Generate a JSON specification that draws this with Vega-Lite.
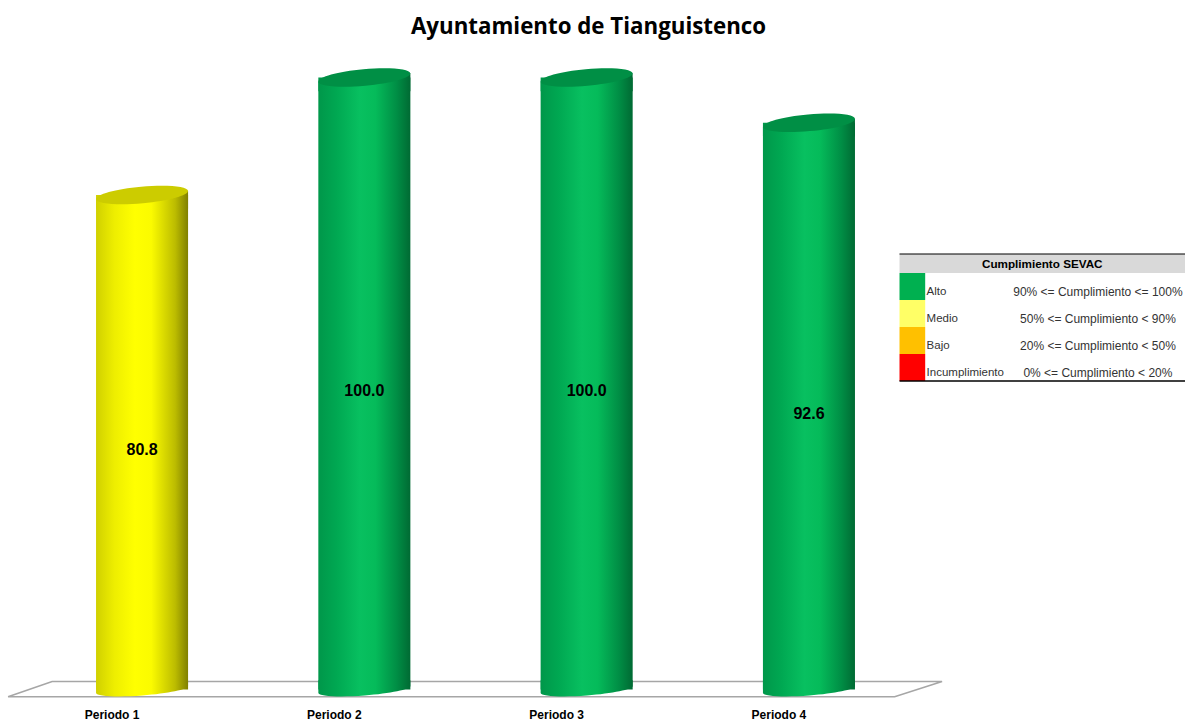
{
"$schema":"https://vega.github.io/schema/vega-lite/v6.json",
"width":1185,"height":640,
"autosize":{"type":"none"},
"padding":{"top":60,"bottom":21,"left":0,"right":0},
"background":"white",
"view":{"stroke":null},
"title":{"text":"Ayuntamiento de Tianguistenco","font":"Open Sans","fontSize":22.3,"fontWeight":700,"color":"#000000","anchor":"middle","dx":-4,"offset":22},
"datasets":{
"periodos":[
{"periodo":"Periodo 1","cumplimiento":80.8,"nivel":"Medio"},
{"periodo":"Periodo 2","cumplimiento":100.0,"nivel":"Alto"},
{"periodo":"Periodo 3","cumplimiento":100.0,"nivel":"Alto"},
{"periodo":"Periodo 4","cumplimiento":92.6,"nivel":"Alto"}],
"piso":[
{"orden":1,"px":0.68,"py":-1.18},
{"orden":2,"px":75.5,"py":-1.18},
{"orden":3,"px":79.5,"py":1.3},
{"orden":4,"px":4.4,"py":1.3},
{"orden":5,"px":0.68,"py":-1.18}],
"niveles":[
{"nivel":"Alto","rango":"90% <= Cumplimiento <= 100%"},
{"nivel":"Medio","rango":"50% <= Cumplimiento < 90%"},
{"nivel":"Bajo","rango":"20% <= Cumplimiento < 50%"},
{"nivel":"Incumplimiento","rango":"0% <= Cumplimiento < 20%"}],
"encabezado":[{"titulo":"Cumplimiento SEVAC"}]
},
"layer":[
{"data":{"name":"piso"},
 "mark":{"type":"line","color":"#a6a6a6","strokeWidth":1.6,"clip":false},
 "encoding":{
  "x":{"field":"px","type":"quantitative","scale":{"domain":[0,100],"range":[0,1185]},"axis":null},
  "y":{"field":"py","type":"quantitative","scale":{"domain":[-1.72,102.86],"range":[640,0]},"axis":null},
  "order":{"field":"orden","type":"ordinal"}}},
{"data":{"name":"periodos"},
 "encoding":{
  "x":{"field":"periodo","type":"nominal","sort":null,
   "scale":{"domain":["Periodo 1","Periodo 2","Periodo 3","Periodo 4"],"range":[0,951],"paddingInner":0.586,"paddingOuter":0.432},
   "axis":{"title":null,"domain":false,"ticks":false,"grid":false,"labelAngle":0,"labelFont":"Liberation Sans","labelFontSize":12,"labelFontWeight":"bold","labelColor":"#000000","labelPadding":9,"labelOffset":-30}},
  "y":{"field":"cumplimiento","type":"quantitative","scale":{"domain":[-1.72,102.86],"range":[640,0]},"axis":null}
 },
 "layer":[
  {"transform":[{"filter":"datum.nivel === 'Alto'"}],"mark":{"type":"bar","color":{"gradient":"linear","x1":0,"y1":0,"x2":1,"y2":0,"stops":[{"offset":0,"color":"#00974a"},{"offset":0.2,"color":"#00a852"},{"offset":0.45,"color":"#08c060"},{"offset":0.62,"color":"#05bb5a"},{"offset":0.85,"color":"#008e45"},{"offset":1,"color":"#006a33"}]}}},
  {"transform":[{"filter":"datum.nivel === 'Medio'"}],"mark":{"type":"bar","color":{"gradient":"linear","x1":0,"y1":0,"x2":1,"y2":0,"stops":[{"offset":0,"color":"#d0d000"},{"offset":0.2,"color":"#eeee00"},{"offset":0.42,"color":"#ffff00"},{"offset":0.6,"color":"#fbfb00"},{"offset":0.86,"color":"#bcbc00"},{"offset":1,"color":"#808000"}]}}},
  {"transform":[{"filter":"datum.nivel === 'Alto'"}],"mark":{"type":"point","filled":true,"opacity":1,"size":8464,"shape":"M-1,0.09 L1,-0.09 L1,0.3 L-1,0.3 Z","color":{"gradient":"linear","x1":0,"y1":0,"x2":1,"y2":0,"stops":[{"offset":0,"color":"#00974a"},{"offset":0.2,"color":"#00a852"},{"offset":0.45,"color":"#08c060"},{"offset":0.62,"color":"#05bb5a"},{"offset":0.85,"color":"#008e45"},{"offset":1,"color":"#006a33"}]}}},
  {"transform":[{"filter":"datum.nivel === 'Medio'"}],"mark":{"type":"point","filled":true,"opacity":1,"size":8464,"shape":"M-1,0.09 L1,-0.09 L1,0.3 L-1,0.3 Z","color":{"gradient":"linear","x1":0,"y1":0,"x2":1,"y2":0,"stops":[{"offset":0,"color":"#d0d000"},{"offset":0.2,"color":"#eeee00"},{"offset":0.42,"color":"#ffff00"},{"offset":0.6,"color":"#fbfb00"},{"offset":0.86,"color":"#bcbc00"},{"offset":1,"color":"#808000"}]}}},
  {"transform":[{"filter":"datum.nivel === 'Alto'"}],"mark":{"type":"point","filled":true,"opacity":1,"size":8464,"shape":"M-1,0.075 A1,0.13 -4.3 0 0 1,-0.075 L1,-0.2 L-1,-0.2 Z","color":{"gradient":"linear","x1":0,"y1":0,"x2":1,"y2":0,"stops":[{"offset":0,"color":"#00974a"},{"offset":0.2,"color":"#00a852"},{"offset":0.45,"color":"#08c060"},{"offset":0.62,"color":"#05bb5a"},{"offset":0.85,"color":"#008e45"},{"offset":1,"color":"#006a33"}]}},
   "encoding":{"y":{"datum":0}}},
  {"transform":[{"filter":"datum.nivel === 'Medio'"}],"mark":{"type":"point","filled":true,"opacity":1,"size":8464,"shape":"M-1,0.075 A1,0.13 -4.3 0 0 1,-0.075 L1,-0.2 L-1,-0.2 Z","color":{"gradient":"linear","x1":0,"y1":0,"x2":1,"y2":0,"stops":[{"offset":0,"color":"#d0d000"},{"offset":0.2,"color":"#eeee00"},{"offset":0.42,"color":"#ffff00"},{"offset":0.6,"color":"#fbfb00"},{"offset":0.86,"color":"#bcbc00"},{"offset":1,"color":"#808000"}]}},
   "encoding":{"y":{"datum":0}}},
  {"mark":{"type":"point","filled":true,"opacity":1,"size":8464,"shape":"M-1,0.09 A1,0.18 -5.1 0 1 1,-0.09 A1,0.18 -5.1 0 1 -1,0.09 Z"},
   "encoding":{"color":{"field":"nivel","type":"nominal","legend":null,"scale":{"domain":["Alto","Medio"],"range":["#008f45","#cccc00"]}}}},
  {"mark":{"type":"text","font":"Liberation Sans","fontSize":16,"fontWeight":"bold","color":"#000000","dy":8},
   "encoding":{"y":{"field":"cumplimiento","type":"quantitative","stack":"zero","bandPosition":0.5},"text":{"field":"cumplimiento","type":"quantitative","format":".1f"}}}
 ]},
{"data":{"name":"niveles"},
 "encoding":{
  "y":{"field":"nivel","type":"nominal","sort":null,"axis":null,
   "scale":{"domain":["Alto","Medio","Bajo","Incumplimiento"],"range":[213,321],"paddingInner":0,"paddingOuter":0}}
 },
 "layer":[
  {"data":{"name":"encabezado"},
   "mark":{"type":"rect","fill":"#d9d9d9","height":19,"yOffset":-23},
   "encoding":{"y":{"datum":"Alto"},"x":{"datum":0,"type":"quantitative","scale":{"domain":[0,100],"range":[899.5,1185]},"axis":null},"x2":{"datum":100}}},
  {"mark":{"type":"rect"},
   "encoding":{"x":{"datum":0,"type":"quantitative"},"x2":{"datum":9},
    "color":{"field":"nivel","type":"nominal","legend":null,"scale":{"domain":["Alto","Medio","Bajo","Incumplimiento"],"range":["#00b050","#ffff66","#ffc000","#ff0000"]}}}},
  {"mark":{"type":"text","font":"Liberation Sans","fontSize":11.5,"color":"#333333","align":"left","dy":5},
   "encoding":{"x":{"datum":9.5,"type":"quantitative"},"text":{"field":"nivel"}}},
  {"mark":{"type":"text","font":"Liberation Sans","fontSize":12,"color":"#333333","align":"center","dy":5},
   "encoding":{"x":{"datum":69.5,"type":"quantitative"},"text":{"field":"rango"}}},
  {"data":{"name":"encabezado"},
   "mark":{"type":"text","font":"Liberation Sans","fontSize":11.7,"fontWeight":"bold","color":"#000000","align":"center","dy":-23},
   "encoding":{"y":{"datum":"Alto"},"x":{"datum":50,"type":"quantitative"},"text":{"field":"titulo"}}},
  {"data":{"name":"encabezado"},
   "mark":{"type":"rule","color":"#000000","strokeWidth":1.2,"yOffset":-32.5},
   "encoding":{"y":{"datum":"Alto"},"x":{"datum":0,"type":"quantitative"},"x2":{"datum":100}}},
  {"data":{"name":"encabezado"},
   "mark":{"type":"rule","color":"#000000","strokeWidth":1.5,"yOffset":13.5},
   "encoding":{"y":{"datum":"Incumplimiento"},"x":{"datum":0,"type":"quantitative"},"x2":{"datum":100}}}
 ]}
],
"resolve":{"scale":{"x":"independent","y":"independent","color":"independent"},"axis":{"x":"independent","y":"independent"}}
}
